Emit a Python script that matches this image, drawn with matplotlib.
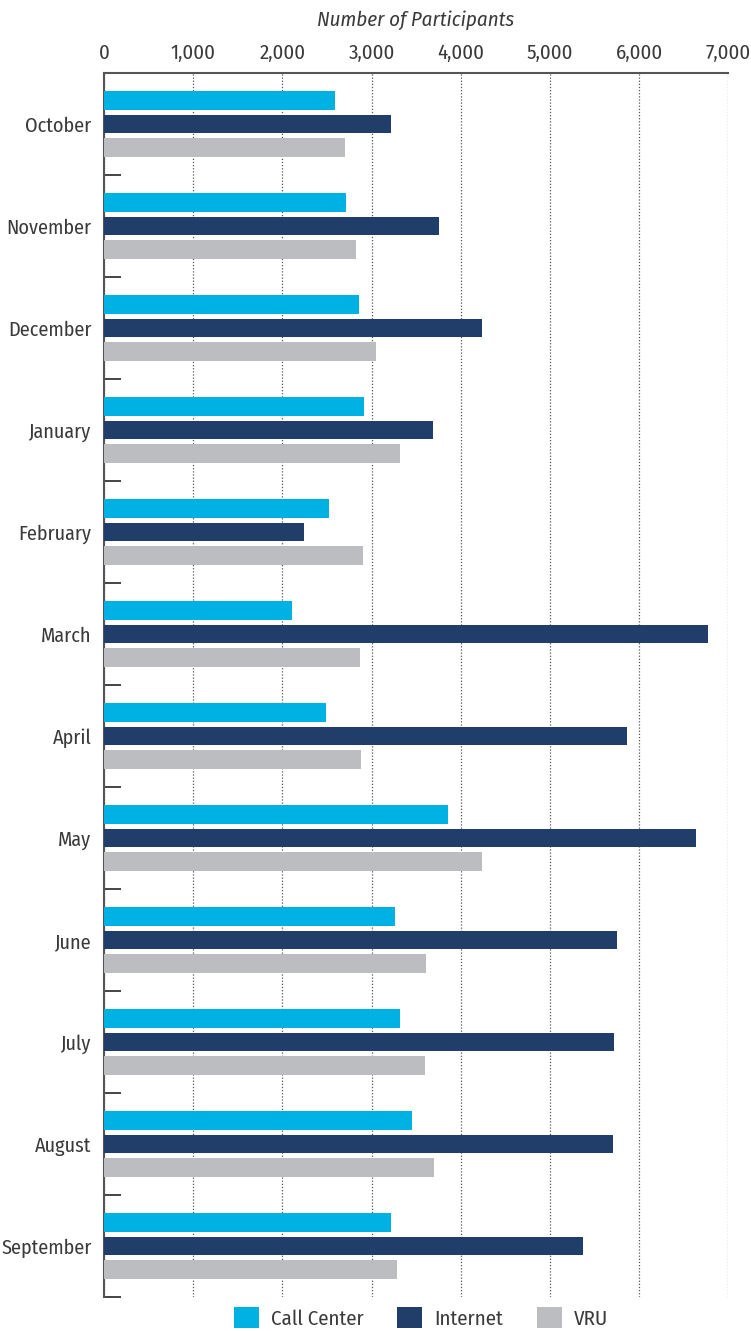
import matplotlib
matplotlib.use("Agg")
import matplotlib.pyplot as plt
import numpy as np
from matplotlib.patches import Patch
from matplotlib.ticker import FixedLocator
from matplotlib import font_manager as fm

months = ["October", "November", "December", "January", "February", "March",
          "April", "May", "June", "July", "August", "September"]
call_center = [2591, 2714, 2860, 2916, 2524, 2109, 2490, 3858, 3263, 3320, 3454, 3219]
internet = [3219, 3757, 4238, 3689, 2243, 6773, 5864, 6638, 5752, 5718, 5707, 5370]
vru = [2703, 2826, 3050, 3320, 2905, 2871, 2882, 4238, 3611, 3600, 3701, 3286]
series_names = ["Call Center", "Internet", "VRU"]
series_colors = ["#00B2E3", "#213D6A", "#BCBDC1"]
x_ticks = [0, 1000, 2000, 3000, 4000, 5000, 6000, 7000]

candidates = ["Open Sans Condensed", "Open Sans Condensed Light", "Fira Sans Condensed",
              "PT Sans Narrow", "Roboto Condensed", "Asap Condensed", "Encode Sans Condensed",
              "IBM Plex Sans Condensed", "Archivo Narrow", "Liberation Sans Narrow",
              "Roboto"]
avail = {}
for f in fm.fontManager.ttflist:
    avail.setdefault(f.name, []).append((f.style, f.weight, f.fname))


def pick(style):
    for c in candidates:
        if c in avail:
            opts = [(abs(int(w) - 360), fn) for s, w, fn in avail[c]
                    if s == style and isinstance(w, int) and 280 <= w <= 450]
            if opts:
                opts.sort()
                return fm.FontProperties(fname=opts[0][1])
    return fm.FontProperties(family="DejaVu Sans", style=style)


FP = pick("normal")
FP_I = pick("italic")
TXT = "#3a3a3a"


def fp(size, base=FP):
    p = base.copy()
    p.set_size(size)
    return p


W, H = 751, 1331
fig = plt.figure(figsize=(W / 100, H / 100), dpi=100)
ax = fig.add_axes([103.9 / W, 1 - 1297 / H, (728.3 - 103.9) / W, (1297 - 73) / H])

y = np.arange(len(months))
pitch = 0.235
bh = 0.186
for i, (vals, col) in enumerate(zip([call_center, internet, vru], series_colors)):
    ax.barh(y + (i - 1) * pitch, vals, height=bh, color=col, zorder=3, linewidth=0)

ax.set_xlim(0, 7000)
ax.set_ylim(len(months) - 0.5, -0.5)

ax.xaxis.tick_top()
ax.xaxis.set_label_position("top")
ax.set_xticks(x_ticks)
ax.set_xticklabels([f"{v:,}" for v in x_ticks], fontproperties=fp(15), color=TXT)
ax.tick_params(axis="x", length=0, pad=7)

ax.set_yticks(y)
ax.set_yticklabels(months, fontproperties=fp(14.5), color=TXT)
ax.tick_params(axis="y", which="major", length=0, pad=9)
ax.yaxis.set_minor_locator(FixedLocator(np.arange(0.5, len(months), 1.0)))
ax.tick_params(axis="y", which="minor", direction="in", length=12, width=1.4, color="#444444")

ax.set_xlabel("Number of Participants", fontproperties=fp(15, FP_I), color=TXT, labelpad=13)

ax.grid(axis="x", which="major", linestyle=(0, (1, 1.5)), color="#555555", linewidth=0.9, zorder=0)
for s in ["right", "bottom"]:
    ax.spines[s].set_visible(False)
for s in ["top", "left"]:
    ax.spines[s].set_color("#555555")
    ax.spines[s].set_linewidth(1.5)

handles = [Patch(facecolor=c, edgecolor="none") for c in series_colors]
fig.legend(handles, series_names, loc="center", bbox_to_anchor=(421 / W, 1 - 1318 / H),
           ncol=3, frameon=False, prop=fp(15), labelcolor=TXT,
           handlelength=1.2, handleheight=1.2, handletextpad=0.6, columnspacing=1.6,
           borderaxespad=0, borderpad=0)

fig.savefig("out.png", dpi=100)
